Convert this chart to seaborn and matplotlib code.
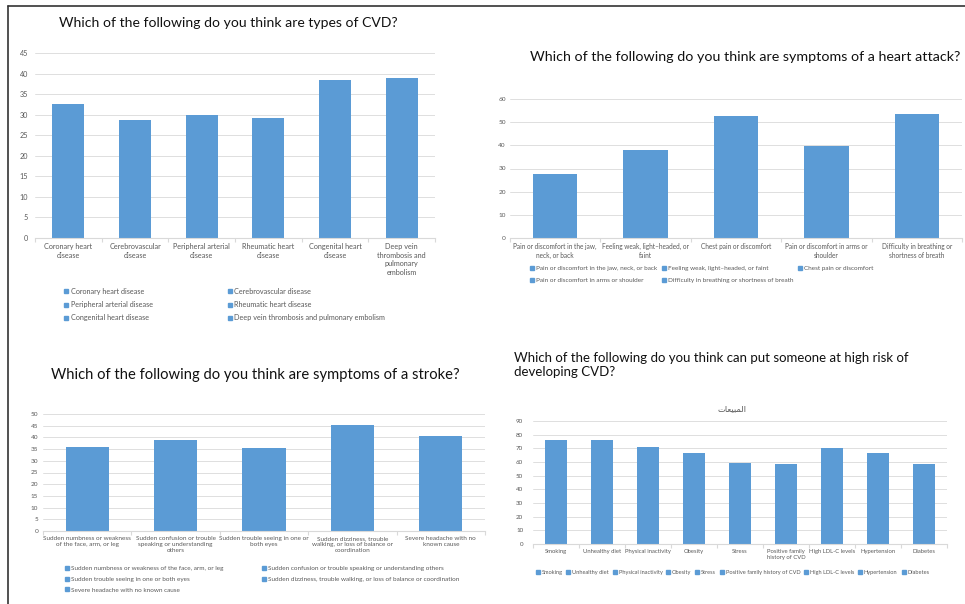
import numpy as np
import matplotlib.pyplot as plt
from matplotlib.lines import Line2D
import seaborn as sns

W, H = 965, 604
BLUE = '#5B9BD5'
GRID = '#D9D9D9'
TXT = '#595959'

# panel 1: types of CVD
cvd_types = ['Coronary heart disease', 'Cerebrovascular disease', 'Peripheral arterial disease',
             'Rheumatic heart disease', 'Congenital heart disease',
             'Deep vein thrombosis and pulmonary embolism']
cvd_type_ticks = ['Coronary heart\ndisease', 'Cerebrovascular\ndisease', 'Peripheral arterial\ndisease',
                  'Rheumatic heart\ndisease', 'Congenital heart\ndisease',
                  'Deep vein\nthrombosis and\npulmonary\nembolism']
cvd_type_values = [32.7, 28.8, 29.9, 29.1, 38.5, 39.0]

# panel 2: heart attack symptoms
heart_symptoms = ['Pain or discomfort in the jaw, neck, or back', 'Feeling weak, light–headed, or faint',
                  'Chest pain or discomfort', 'Pain or discomfort in arms or shoulder',
                  'Difficulty in breathing or shortness of breath']
heart_ticks = ['Pain or discomfort in the jaw,\nneck, or back', 'Feeling weak, light–headed, or\nfaint',
               'Chest pain or discomfort', 'Pain or discomfort in arms or\nshoulder',
               'Difficulty in breathing or\nshortness of breath']
heart_values = [27.8, 37.8, 52.7, 39.8, 53.7]

# panel 3: stroke symptoms
stroke_symptoms = ['Sudden numbness or weakness of the face, arm, or leg',
                   'Sudden confusion or trouble speaking or understanding others',
                   'Sudden trouble seeing in one or both eyes',
                   'Sudden dizziness, trouble walking, or loss of balance or coordination',
                   'Severe headache with no known cause']
stroke_ticks = ['Sudden numbness or weakness\nof the face, arm, or leg',
                'Sudden confusion or trouble\nspeaking or understanding\nothers',
                'Sudden trouble seeing in one or\nboth eyes',
                'Sudden dizziness, trouble\nwalking, or loss of balance or\ncoordination',
                'Severe headache with no\nknown cause']
stroke_values = [35.8, 38.8, 35.4, 45.1, 40.7]

# panel 4: risk factors
risk_factors = ['Smoking', 'Unhealthy diet', 'Physical inactivity', 'Obesity', 'Stress',
                'Positive family history of CVD', 'High LDL-C levels', 'Hypertension', 'Diabetes']
risk_ticks = ['Smoking', 'Unhealthy diet', 'Physical inactivity', 'Obesity', 'Stress',
              'Positive family\nhistory of CVD', 'High LDL-C levels', 'Hypertension', 'Diabetes']
risk_values = [75.9, 75.9, 71.3, 66.9, 59.4, 58.9, 70.6, 66.7, 58.7]

# Arabic subtitle ("المبيعات") in presentation forms, visual order, since matplotlib does no shaping
risk_subtitle = '\uFE95\uFE8E\uFECC\uFEF4\uFE92\uFEE4\uFEDF\uFE8D'

sns.set_theme(style='white')
plt.rcParams['font.family'] = ['Lato', 'DejaVu Sans']

fig = plt.figure(figsize=(W / 100, H / 100), dpi=100)


def px_axes(x0, y0, x1, y1):
    return fig.add_axes([x0 / W, 1 - y1 / H, (x1 - x0) / W, (y1 - y0) / H])


def draw_panel(ax, cats, ticks, vals, ymax, step, tick_fs, ytick_fs, ypad, width=0.48):
    n = len(cats)
    sns.barplot(x=cats, y=vals, color=BLUE, saturation=1, width=width, linewidth=0, ax=ax)
    ax.set_ylim(0, ymax)
    ax.set_xlim(-0.5, n - 0.5)
    ax.set_yticks(np.arange(0, ymax + 1, step))
    ax.yaxis.grid(True, color=GRID, lw=0.6)
    ax.set_axisbelow(True)
    for s in ['top', 'right', 'left']:
        ax.spines[s].set_visible(False)
    ax.spines['bottom'].set_color(GRID)
    ax.spines['bottom'].set_linewidth(0.8)
    ax.set_xticks(range(n))
    ax.set_xticklabels(ticks, fontsize=tick_fs, color=TXT, linespacing=1.3)
    ax.set_xticks(np.arange(-0.5, n), minor=True)
    ax.tick_params(axis='x', which='major', length=0, pad=3.5)
    ax.tick_params(axis='x', which='minor', length=3, color=GRID, width=0.8, bottom=True)
    ax.tick_params(axis='y', length=0, labelsize=ytick_fs, labelcolor=TXT, pad=ypad)
    ax.set_xlabel('')
    ax.set_ylabel('')


def add_legend(cats, order, ncol, x, y, fs, colsp, rowsp):
    hs = [Line2D([], [], marker='s', ls='', color=BLUE, markersize=2.6) for _ in order]
    fig.legend(hs, [cats[i] for i in order], loc='upper left',
               bbox_to_anchor=(x / W, 1 - y / H), ncol=ncol, fontsize=fs, frameon=False,
               handlelength=0.6, handletextpad=0.35, columnspacing=colsp, labelspacing=rowsp,
               borderpad=0, borderaxespad=0, labelcolor=TXT)


# frame lines
fig.add_artist(Line2D([8 / W, 1], [1 - 6 / H, 1 - 6 / H], color='#333333', lw=1.2))
fig.add_artist(Line2D([8 / W, 8 / W], [0, 1 - 6 / H], color='#333333', lw=1.2))

# panel 1
fig.text(228 / W, 1 - 23 / H, 'Which of the following do you think are types of CVD?',
         ha='center', va='center', fontsize=10.1, color='#111111')
ax1 = px_axes(35, 53, 435, 238)
draw_panel(ax1, cvd_types, cvd_type_ticks, cvd_type_values, 45, 5, 5.2, 5.2, 5)
add_legend(cvd_types, [0, 2, 4, 1, 3, 5], 2, 64, 288, 5.2, 10.3, 0.85)

# panel 2
fig.text(745 / W, 1 - 57 / H, 'Which of the following do you think are symptoms of a heart attack?',
         ha='center', va='center', fontsize=10.3, color='#111111')
ax2 = px_axes(510, 99, 962, 238)
draw_panel(ax2, heart_symptoms, heart_ticks, heart_values, 60, 10, 4.7, 4.6, 3, width=0.49)
add_legend(heart_symptoms, [0, 3, 1, 4, 2], 3, 530, 266, 4.6, 0.7, 0.95)

# panel 3
fig.text(255 / W, 1 - 375 / H, 'Which of the following do you think are symptoms of a stroke?',
         ha='center', va='center', fontsize=10.6, color='#111111')
ax3 = px_axes(43, 414, 485, 531)
draw_panel(ax3, stroke_symptoms, stroke_ticks, stroke_values, 50, 5, 4.6, 4.6, 3.5, width=0.49)
add_legend(stroke_symptoms, [0, 2, 4, 1, 3], 2, 65, 566, 4.6, 6, 0.8)

# panel 4
fig.text(514 / W, 1 - 365 / H,
         'Which of the following do you think can put someone at high risk of\ndeveloping CVD?',
         ha='left', va='center', fontsize=9.55, color='#111111', linespacing=1.15)
fig.text(732 / W, 1 - 409 / H, risk_subtitle, ha='center', va='center', fontsize=6,
         color=TXT, family=['DejaVu Sans'])
ax4 = px_axes(533, 421, 947, 544)
draw_panel(ax4, risk_factors, risk_ticks, risk_values, 90, 10, 4.2, 4.5, 7, width=0.48)
add_legend(risk_factors, list(range(9)), 9, 536, 570, 4.1, 0.75, 0.5)

fig.savefig('out.png', dpi=100)
